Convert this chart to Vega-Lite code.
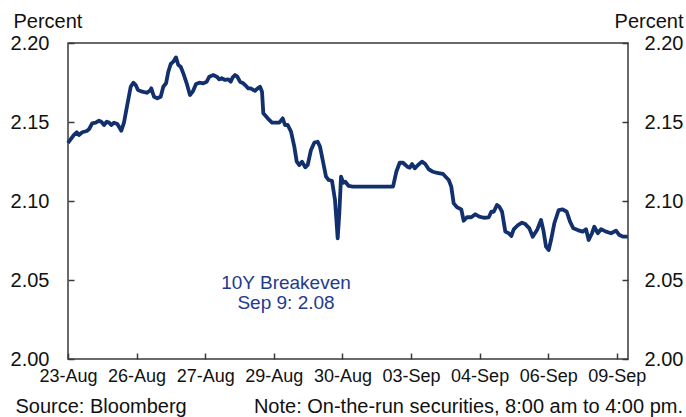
{
  "$schema": "https://vega.github.io/schema/vega-lite/v6.json",
  "width": 560,
  "height": 316,
  "autosize": "none",
  "padding": {"left": 68, "top": 43, "right": 58, "bottom": 58},
  "background": "white",
  "config": {
    "font": "Liberation Sans",
    "view": {"stroke": "#3a3a3a", "strokeWidth": 1.5},
    "axis": {"grid": false, "domain": false, "tickColor": "#3a3a3a", "tickWidth": 1.5, "tickSize": -6, "labelColor": "#111111", "labelFont": "Liberation Sans", "titleFont": "Liberation Sans", "titleFontWeight": "normal", "titleColor": "#111111"}
  },
  "title": {"text": "Note: On-the-run securities, 8:00 am to 4:00 pm.", "orient": "bottom", "anchor": "end", "frame": "group", "fontSize": 20, "fontWeight": "normal", "color": "#111111", "dx": 55, "dy": -23},
  "data": {"values": [
    {"t":0,"v":2.1367},{"t":0.039,"v":2.1391},{"t":0.087,"v":2.1418},{"t":0.127,"v":2.1435},{"t":0.160,"v":2.1418},{"t":0.208,"v":2.1435},{"t":0.273,"v":2.1443},{"t":0.306,"v":2.1454},{"t":0.354,"v":2.1492},{"t":0.404,"v":2.1496},{"t":0.452,"v":2.1508},{"t":0.485,"v":2.1502},{"t":0.525,"v":2.1481},{"t":0.564,"v":2.1502},{"t":0.598,"v":2.1496},{"t":0.631,"v":2.1481},{"t":0.671,"v":2.1496},{"t":0.719,"v":2.1487},{"t":0.777,"v":2.1445},{"t":0.816,"v":2.1496},{"t":0.864,"v":2.1608},{"t":0.914,"v":2.1723},{"t":0.952,"v":2.1749},{"t":0.987,"v":2.1734},{"t":1.020,"v":2.1703},{"t":1.083,"v":2.1692},{"t":1.147,"v":2.1685},{"t":1.195,"v":2.1698},{"t":1.214,"v":2.1713},{"t":1.254,"v":2.1660},{"t":1.302,"v":2.1650},{"t":1.351,"v":2.1660},{"t":1.389,"v":2.1723},{"t":1.429,"v":2.1745},{"t":1.462,"v":2.1818},{"t":1.497,"v":2.1867},{"t":1.535,"v":2.1882},{"t":1.574,"v":2.1909},{"t":1.608,"v":2.1861},{"t":1.643,"v":2.1850},{"t":1.681,"v":2.1808},{"t":1.730,"v":2.1745},{"t":1.778,"v":2.1671},{"t":1.818,"v":2.1692},{"t":1.866,"v":2.1741},{"t":1.914,"v":2.1749},{"t":1.972,"v":2.1745},{"t":2.022,"v":2.1755},{"t":2.060,"v":2.1787},{"t":2.118,"v":2.1797},{"t":2.168,"v":2.1787},{"t":2.206,"v":2.1770},{"t":2.241,"v":2.1777},{"t":2.289,"v":2.1766},{"t":2.337,"v":2.1770},{"t":2.372,"v":2.1755},{"t":2.401,"v":2.1783},{"t":2.434,"v":2.1797},{"t":2.468,"v":2.1787},{"t":2.507,"v":2.1755},{"t":2.555,"v":2.1745},{"t":2.595,"v":2.1728},{"t":2.628,"v":2.1713},{"t":2.663,"v":2.1713},{"t":2.701,"v":2.1703},{"t":2.726,"v":2.1698},{"t":2.765,"v":2.1713},{"t":2.799,"v":2.1723},{"t":2.828,"v":2.1692},{"t":2.847,"v":2.1555},{"t":2.911,"v":2.1523},{"t":2.974,"v":2.1496},{"t":3.032,"v":2.1496},{"t":3.080,"v":2.1496},{"t":3.130,"v":2.1523},{"t":3.163,"v":2.1481},{"t":3.203,"v":2.1481},{"t":3.251,"v":2.1439},{"t":3.299,"v":2.1344},{"t":3.334,"v":2.1249},{"t":3.372,"v":2.1228},{"t":3.411,"v":2.1249},{"t":3.459,"v":2.1213},{"t":3.494,"v":2.1228},{"t":3.542,"v":2.1323},{"t":3.590,"v":2.1369},{"t":3.640,"v":2.1375},{"t":3.673,"v":2.1344},{"t":3.713,"v":2.1259},{"t":3.761,"v":2.1154},{"t":3.800,"v":2.1133},{"t":3.848,"v":2.1128},{"t":3.892,"v":2.1006},{"t":3.931,"v":2.0764},{"t":3.955,"v":2.0922},{"t":3.980,"v":2.1154},{"t":4.013,"v":2.1116},{"t":4.042,"v":2.1122},{"t":4.092,"v":2.1095},{"t":4.150,"v":2.1091},{"t":4.738,"v":2.1091},{"t":4.786,"v":2.1185},{"t":4.835,"v":2.1242},{"t":4.883,"v":2.1242},{"t":4.946,"v":2.1217},{"t":4.981,"v":2.1211},{"t":5.015,"v":2.1234},{"t":5.054,"v":2.1207},{"t":5.102,"v":2.1228},{"t":5.160,"v":2.1249},{"t":5.208,"v":2.1234},{"t":5.258,"v":2.1201},{"t":5.321,"v":2.1185},{"t":5.369,"v":2.1179},{"t":5.418,"v":2.1175},{"t":5.466,"v":2.1171},{"t":5.550,"v":2.1133},{"t":5.587,"v":2.1091},{"t":5.622,"v":2.0985},{"t":5.671,"v":2.0960},{"t":5.733,"v":2.0947},{"t":5.768,"v":2.0875},{"t":5.816,"v":2.0897},{"t":5.879,"v":2.0897},{"t":5.937,"v":2.0916},{"t":5.996,"v":2.0901},{"t":6.060,"v":2.0894},{"t":6.133,"v":2.0897},{"t":6.171,"v":2.0932},{"t":6.206,"v":2.0932},{"t":6.254,"v":2.0975},{"t":6.287,"v":2.0964},{"t":6.327,"v":2.0932},{"t":6.375,"v":2.0806},{"t":6.424,"v":2.0796},{"t":6.462,"v":2.0778},{"t":6.497,"v":2.0821},{"t":6.560,"v":2.0848},{"t":6.618,"v":2.0863},{"t":6.666,"v":2.0854},{"t":6.725,"v":2.0827},{"t":6.774,"v":2.0774},{"t":6.837,"v":2.0816},{"t":6.895,"v":2.0880},{"t":6.929,"v":2.0816},{"t":6.968,"v":2.0711},{"t":7.007,"v":2.0690},{"t":7.041,"v":2.0753},{"t":7.089,"v":2.0859},{"t":7.153,"v":2.0943},{"t":7.211,"v":2.0947},{"t":7.270,"v":2.0932},{"t":7.318,"v":2.0869},{"t":7.366,"v":2.0827},{"t":7.430,"v":2.0816},{"t":7.503,"v":2.0806},{"t":7.551,"v":2.0821},{"t":7.590,"v":2.0753},{"t":7.638,"v":2.0796},{"t":7.672,"v":2.0837},{"t":7.722,"v":2.0796},{"t":7.770,"v":2.0821},{"t":7.843,"v":2.0806},{"t":7.915,"v":2.0796},{"t":7.988,"v":2.0812},{"t":8.036,"v":2.0785},{"t":8.095,"v":2.0774},{"t":8.159,"v":2.0774}
  ]},
  "encoding": {
    "x": {"field": "t", "type": "quantitative", "scale": {"domain": [0, 8.163], "nice": false, "zero": false},
      "axis": {"values": [0,1,2,3,4,5,6,7,8], "labelExpr": "['23-Aug','26-Aug','27-Aug','29-Aug','30-Aug','03-Sep','04-Sep','06-Sep','09-Sep'][datum.value]", "labelFontSize": 18, "labelPadding": 14, "labelFlush": false, "labelOverlap": false,
        "title": "Source: Bloomberg", "titleFontSize": 20, "titleAnchor": null, "titleAlign": "left", "titleBaseline": "alphabetic", "titleX": -53, "titleY": 53}}
  },
  "layer": [
    {
      "mark": {"type": "line", "color": "#12306E", "strokeWidth": 3.8, "strokeJoin": "round"},
      "encoding": {
        "y": {"field": "v", "type": "quantitative", "scale": {"domain": [2.0, 2.2], "nice": false, "zero": false},
          "axis": {"orient": "left", "values": [2.0, 2.05, 2.1, 2.15, 2.2], "format": ".2f", "labelFontSize": 20, "labelPadding": 25, "labelFlush": false,
            "title": "Percent", "titleFontSize": 20, "titleAngle": 0, "titleAnchor": null, "titleAlign": "left", "titleBaseline": "alphabetic", "titleX": -55, "titleY": -16}}
      }
    },
    {
      "transform": [{"filter": "datum.t === 0"}],
      "mark": {"type": "text", "text": ["10Y Breakeven", "Sep 9: 2.08"], "fontSize": 19, "color": "#233A8C", "align": "center", "baseline": "middle", "lineHeight": 20},
      "encoding": {
        "x": {"datum": 3.178, "type": "quantitative"},
        "y": {"datum": 2.048, "type": "quantitative",
          "axis": {"orient": "right", "values": [2.0, 2.05, 2.1, 2.15, 2.2], "format": ".2f", "labelFontSize": 20, "labelPadding": 61, "labelAlign": "right", "labelFlush": false,
            "title": "Percent", "titleFontSize": 20, "titleAngle": 0, "titleAnchor": null, "titleAlign": "right", "titleBaseline": "alphabetic", "titleX": 55, "titleY": -16}}
      }
    }
  ],
  "resolve": {"axis": {"y": "independent"}}
}
